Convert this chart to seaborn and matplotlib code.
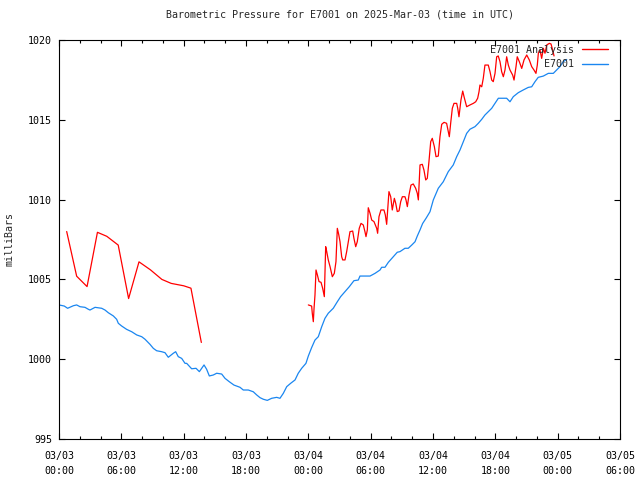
import numpy as np
import pandas as pd
import seaborn as sns
import matplotlib
matplotlib.use("Agg")
import matplotlib.pyplot as plt
import matplotlib.dates as mdates

# hours since 2025-03-03 00:00 UTC, pressure in millibars
analysis_hours_1 = [0.74, 1.7, 2.7, 3.7, 4.6, 5.3, 5.7, 6.7, 7.7, 8.8, 9.9, 10.8, 12.0, 12.7, 13.7]
analysis_mb_1 = [1008.0, 1005.2, 1004.55, 1007.95, 1007.7, 1007.35, 1007.15, 1003.8, 1006.1,
                 1005.6, 1005.0, 1004.75, 1004.6, 1004.45, 1001.05]

analysis_hours_2 = [24.0, 24.32, 24.38, 24.48, 24.55, 24.64, 24.74, 24.87, 25.03, 25.22, 25.38, 25.54,
                    25.67, 25.77, 25.92, 26.09, 26.31, 26.5, 26.66, 26.79, 26.92, 27.05, 27.21, 27.31,
                    27.53, 27.69, 27.85, 28.01, 28.27, 28.39, 28.56, 28.71, 28.9, 29.07, 29.29, 29.45,
                    29.55, 29.68, 29.77, 29.94, 30.1, 30.32, 30.58, 30.67, 30.8, 30.99, 31.28, 31.41,
                    31.54, 31.76, 31.93, 32.08, 32.28, 32.41, 32.56, 32.73, 32.89, 33.05, 33.3, 33.4,
                    33.53, 33.69, 33.88, 34.1, 34.33, 34.49, 34.59, 34.75, 34.97, 35.13, 35.3, 35.45,
                    35.61, 35.78, 35.93, 36.13, 36.29, 36.51, 36.67, 36.84, 37.06, 37.31, 37.47, 37.57,
                    37.7, 37.86, 38.02, 38.28, 38.38, 38.5, 38.69, 38.86, 39.01, 39.24, 39.56, 39.88,
                    40.11, 40.3, 40.43, 40.52, 40.69, 40.84, 41.0, 41.32, 41.49, 41.65, 41.8, 41.97,
                    42.13, 42.28, 42.45, 42.61, 42.77, 42.93, 43.09, 43.25, 43.41, 43.67, 43.8, 43.99,
                    44.11, 44.31, 44.54, 44.76, 45.02, 45.27, 45.5, 45.72, 45.91, 46.04, 46.14, 46.3,
                    46.46, 46.62, 46.78, 46.95, 47.2, 47.36, 47.52, 47.65]
analysis_mb_2 = [1003.4, 1003.33, 1002.88, 1002.35, 1003.19, 1004.02, 1005.59, 1005.28, 1004.86, 1004.82,
                 1004.44, 1003.92, 1007.05, 1006.74, 1006.22, 1005.8, 1005.17, 1005.38, 1006.11, 1008.2,
                 1007.83, 1007.36, 1006.42, 1006.22, 1006.22, 1006.74, 1007.36, 1007.99, 1008.03, 1007.57,
                 1007.05, 1007.36, 1008.2, 1008.51, 1008.41, 1007.99, 1007.68, 1008.1, 1009.49, 1009.14,
                 1008.72, 1008.62, 1008.2, 1007.89, 1008.93, 1009.35, 1009.35, 1009.04, 1008.45, 1010.5,
                 1010.18, 1009.35, 1010.08, 1009.77, 1009.25, 1009.29, 1009.87, 1010.18, 1010.18, 1009.98,
                 1009.56, 1010.29, 1010.91, 1010.98, 1010.71, 1010.39, 1009.98, 1012.17, 1012.21, 1011.85,
                 1011.23, 1011.33, 1012.38, 1013.63, 1013.84, 1013.32, 1012.69, 1012.73, 1013.94, 1014.72,
                 1014.84, 1014.78, 1014.25, 1013.94, 1014.78, 1015.72, 1016.03, 1016.03, 1015.72, 1015.19,
                 1016.24, 1016.8, 1016.39, 1015.82, 1015.93, 1016.03, 1016.13, 1016.35, 1016.76, 1017.18,
                 1017.07, 1017.6, 1018.43, 1018.43, 1018.01, 1017.49, 1017.39, 1017.91, 1018.95, 1019.0,
                 1018.64, 1018.01, 1017.7, 1018.12, 1018.95, 1018.43, 1018.12, 1017.8, 1017.49, 1018.33,
                 1018.95, 1018.64, 1018.22, 1018.75, 1019.06, 1018.75, 1018.33, 1018.12, 1017.91, 1018.43,
                 1019.17, 1019.37, 1018.85, 1019.48, 1019.17, 1019.69, 1019.79, 1019.75, 1019.37, 1019.0]

station_hours = [0.0, 0.51, 0.83, 1.16, 1.38, 1.7, 2.02, 2.5, 2.82, 2.98, 3.47, 4.11, 4.43, 4.75, 5.23,
                 5.55, 5.71, 6.03, 6.51, 7.0, 7.48, 7.96, 8.28, 8.76, 9.08, 9.4, 9.88, 10.2, 10.52, 11.0,
                 11.23, 11.48, 11.81, 12.13, 12.29, 12.77, 13.19, 13.51, 13.73, 13.96, 14.21, 14.47, 14.85,
                 15.18, 15.66, 15.98, 16.39, 16.84, 17.42, 17.74, 18.22, 18.7, 19.03, 19.35, 19.67, 20.05,
                 20.47, 20.95, 21.27, 21.59, 21.92, 22.3, 22.72, 23.03, 23.36, 23.77, 24.0, 24.32, 24.64,
                 24.96, 25.29, 25.6, 25.92, 26.4, 26.79, 27.11, 27.53, 27.94, 28.39, 28.81, 28.97, 29.94,
                 30.42, 30.9, 31.06, 31.38, 31.7, 32.18, 32.56, 32.82, 33.3, 33.62, 33.95, 34.27, 34.49,
                 34.75, 35.0, 35.35, 35.71, 36.03, 36.51, 36.99, 37.47, 37.95, 38.28, 38.6, 38.92, 39.24,
                 39.56, 40.04, 40.36, 40.69, 41.0, 41.33, 41.65, 41.97, 42.29, 42.61, 43.09, 43.41, 43.73,
                 44.21, 44.69, 45.17, 45.5, 45.82, 46.13, 46.62, 47.1, 47.58, 47.9, 48.22, 48.54, 48.87]
station_mb = [1003.4, 1003.33, 1003.19, 1003.29, 1003.35, 1003.4, 1003.29, 1003.25, 1003.13, 1003.08,
              1003.25, 1003.19, 1003.08, 1002.91, 1002.71, 1002.5, 1002.25, 1002.08, 1001.87, 1001.72,
              1001.52, 1001.41, 1001.25, 1000.93, 1000.68, 1000.53, 1000.47, 1000.41, 1000.12, 1000.37,
              1000.47, 1000.16, 1000.05, 999.74, 999.74, 999.4, 999.43, 999.22, 999.43, 999.64, 999.37,
              998.95, 999.01, 999.12, 999.07, 998.8, 998.59, 998.38, 998.24, 998.07, 998.07, 997.96,
              997.76, 997.59, 997.49, 997.42, 997.55, 997.61, 997.55, 997.86, 998.28, 998.49, 998.7,
              999.12, 999.43, 999.74, 1000.2, 1000.73, 1001.2, 1001.41, 1002.04, 1002.56, 1002.88,
              1003.19, 1003.6, 1003.92, 1004.23, 1004.54, 1004.92, 1004.96, 1005.21, 1005.21, 1005.38,
              1005.59, 1005.76, 1005.76, 1006.07, 1006.42, 1006.7, 1006.74, 1006.95, 1006.95, 1007.15,
              1007.36, 1007.72, 1008.1, 1008.5, 1008.85, 1009.24, 1009.98, 1010.71, 1011.12, 1011.75,
              1012.17, 1012.69, 1013.11, 1013.63, 1014.15, 1014.41, 1014.57, 1014.78, 1015.03, 1015.3,
              1015.51, 1015.72, 1016.03, 1016.35, 1016.35, 1016.35, 1016.13, 1016.45, 1016.7, 1016.87,
              1017.03, 1017.07, 1017.39, 1017.66, 1017.74, 1017.91, 1017.91, 1018.12, 1018.33, 1018.64,
              1018.78]

series_names = ["E7001 Analysis", "E7001"]
series_colors = {"E7001 Analysis": "#ff0000", "E7001": "#1a86f0"}

start = pd.Timestamp("2025-03-03 00:00")

# long-form table, segment keeps the red gap unconnected
frames = []
for hrs, mb, name, seg in [(analysis_hours_1, analysis_mb_1, "E7001 Analysis", 0),
                           (analysis_hours_2, analysis_mb_2, "E7001 Analysis", 1),
                           (station_hours, station_mb, "E7001", 2)]:
    frames.append(pd.DataFrame({
        "time": start + pd.to_timedelta(hrs, unit="h"),
        "pressure": mb,
        "series": name,
        "segment": seg,
    }))
df = pd.concat(frames, ignore_index=True)

sns.set_style("ticks")
plt.rcParams["font.family"] = ["DejaVu Sans Mono"]
plt.rcParams["font.size"] = 7.2

fig = plt.figure(figsize=(6.4, 4.8), dpi=100)
ax = fig.add_axes([59 / 640, 1 - 439 / 480, 561 / 640, 399 / 480])

sns.lineplot(data=df, x="time", y="pressure", hue="series", units="segment", estimator=None,
             hue_order=series_names, palette=series_colors, linewidth=0.9, ax=ax, legend=False)

ax.set_xlim(start, start + pd.Timedelta(hours=54))
ax.set_ylim(995, 1020)
ax.set_yticks([995, 1000, 1005, 1010, 1015, 1020])
ax.xaxis.set_major_locator(mdates.HourLocator(byhour=[0, 6, 12, 18]))
ax.xaxis.set_minor_locator(mdates.HourLocator(byhour=range(0, 24, 2)))
ax.xaxis.set_major_formatter(mdates.DateFormatter("%m/%d\n%H:%M"))

ax.tick_params(which="both", direction="in", top=True, right=True, colors="black", labelsize=7.2)
ax.tick_params(which="major", length=4.5, width=0.8)
ax.tick_params(which="minor", length=2.2, width=0.8)
ax.tick_params(axis="x", which="major", pad=9)
ax.tick_params(axis="y", which="major", pad=5)
for lab in ax.get_xticklabels():
    lab.set_linespacing(1.5)
for s in ax.spines.values():
    s.set_color("black")
    s.set_linewidth(0.8)

ax.set_xlabel("")
ax.set_ylabel("milliBars", fontsize=7.2, labelpad=10)
ax.set_title("Barometric Pressure for E7001 on 2025-Mar-03 (time in UTC)", fontsize=7.2, pad=16.5)

handles = [plt.Line2D([], [], color=series_colors[n], lw=1.0) for n in series_names]
ax.legend(handles, series_names, loc="upper right", frameon=False, markerfirst=False,
          bbox_to_anchor=(1 - 3 / 561, 1 + 4 / 399),
          handlelength=2.6, handletextpad=0.8, labelspacing=0.45, borderaxespad=0.6,
          borderpad=0.3, fontsize=7.2)

fig.savefig("out.png", dpi=100)
